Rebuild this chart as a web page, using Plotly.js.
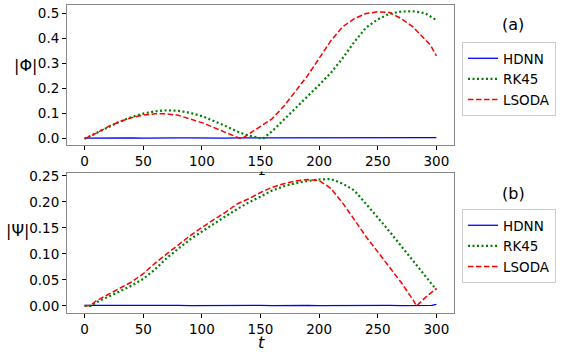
<!DOCTYPE html>
<html>
<head>
    <title>Phi / Psi comparison</title>
    <script src="https://cdn.plot.ly/plotly-3.0.1.min.js"></script>
    <style>
        body { margin: 0; background-color: white; }
        #chart { width: 564px; height: 354px; }
    </style>
</head>
<body>
    <div id="chart"></div>
    <script>
        // panel (a): |Phi|
        const tHdnnA = [0, 10, 20, 30, 40, 50, 60, 70, 80, 90, 100, 110, 120, 130, 140, 150, 160, 170, 180, 190, 200, 210, 220, 230, 240, 250, 260, 270, 280, 290, 300];
        const phiHdnn = [0.002, 0.003, 0.002, 0.003, 0.003, 0.002, 0.003, 0.002, 0.003, 0.003, 0.002, 0.003, 0.002, 0.003, 0.003, 0.002, 0.003, 0.002, 0.003, 0.003, 0.002, 0.003, 0.002, 0.003, 0.003, 0.002, 0.003, 0.002, 0.003, 0.003, 0.004];

        const tRk45A = [0, 10, 20, 30, 40, 50, 60, 70, 80, 90, 100, 110, 120, 130, 140, 150, 152, 160, 170, 180, 190, 200, 210, 220, 230, 240, 250, 260, 270, 280, 290, 300];
        const phiRk45 = [0, 0.022, 0.045, 0.068, 0.086, 0.1, 0.109, 0.113, 0.111, 0.103, 0.09, 0.072, 0.051, 0.029, 0.012, 0.002, 0, 0.03, 0.075, 0.12, 0.168, 0.214, 0.262, 0.32, 0.385, 0.442, 0.475, 0.497, 0.506, 0.507, 0.5, 0.472];

        const tLsodaA = [0, 10, 20, 30, 40, 50, 60, 70, 80, 90, 100, 110, 120, 130, 134, 140, 150, 160, 170, 180, 190, 200, 210, 220, 230, 240, 250, 260, 270, 280, 290, 295, 300];
        const phiLsoda = [0, 0.022, 0.048, 0.068, 0.084, 0.094, 0.099, 0.099, 0.093, 0.08, 0.064, 0.045, 0.024, 0.006, 0, 0.018, 0.047, 0.08, 0.13, 0.19, 0.25, 0.32, 0.39, 0.445, 0.478, 0.498, 0.505, 0.502, 0.478, 0.445, 0.395, 0.372, 0.33];

        // panel (b): |Psi|
        const tHdnnB = [0, 10, 20, 30, 40, 50, 60, 70, 80, 90, 100, 110, 120, 130, 140, 150, 160, 170, 180, 190, 200, 210, 220, 230, 240, 250, 260, 270, 280, 290, 296, 300];
        const psiHdnn = [0.001, 0.0012, 0.0008, 0.0012, 0.001, 0.0008, 0.0012, 0.001, 0.0012, 0.0008, 0.001, 0.0012, 0.0008, 0.001, 0.0012, 0.001, 0.0008, 0.0012, 0.001, 0.0012, 0.0008, 0.001, 0.0012, 0.0008, 0.001, 0.0012, 0.001, 0.0008, 0.0012, 0.001, 0.0012, 0.003];

        const tRk45B = [0, 5, 10, 20, 30, 40, 50, 60, 70, 80, 90, 100, 110, 120, 130, 140, 150, 160, 170, 180, 190, 200, 210, 220, 230, 240, 250, 260, 270, 280, 290, 300];
        const psiRk45 = [0, 0, 0.007, 0.017, 0.028, 0.039, 0.052, 0.07, 0.092, 0.11, 0.128, 0.143, 0.158, 0.172, 0.186, 0.199, 0.21, 0.222, 0.23, 0.236, 0.24, 0.243, 0.244, 0.235, 0.222, 0.197, 0.17, 0.143, 0.115, 0.088, 0.06, 0.031];

        const tLsodaB = [0, 5, 10, 20, 30, 40, 50, 60, 70, 80, 90, 100, 110, 120, 130, 140, 150, 160, 170, 180, 190, 200, 210, 220, 230, 240, 250, 260, 270, 280, 283, 290, 300];
        const psiLsoda = [0, 0.001, 0.01, 0.022, 0.033, 0.046, 0.062, 0.082, 0.1, 0.118, 0.135, 0.151, 0.165, 0.18, 0.196, 0.206, 0.218, 0.228, 0.235, 0.24, 0.243, 0.241, 0.226, 0.198, 0.166, 0.133, 0.104, 0.074, 0.045, 0.012, 0, 0.015, 0.034];

        const names = ['HDNN', 'RK45', 'LSODA'];
        const colors = ['#0000ff', '#008000', '#ff0000'];
        const dashes = ['solid', '2px,2.5px', '5.5px,2.5px'];
        const widths = [1.3, 2.2, 1.5];

        function mk(i, x, y, xa, ya, leg) {
            return {
                x: x, y: y, name: names[i], type: 'scatter', mode: 'lines',
                xaxis: xa, yaxis: ya, legend: leg,
                line: {color: colors[i], dash: dashes[i], width: widths[i]}
            };
        }

        const traces = [
            mk(0, tHdnnA, phiHdnn, 'x', 'y', 'legend'),
            mk(1, tRk45A, phiRk45, 'x', 'y', 'legend'),
            mk(2, tLsodaA, phiLsoda, 'x', 'y', 'legend'),
            mk(0, tHdnnB, psiHdnn, 'x2', 'y2', 'legend2'),
            mk(1, tRk45B, psiRk45, 'x2', 'y2', 'legend2'),
            mk(2, tLsodaB, psiLsoda, 'x2', 'y2', 'legend2')
        ];

        const W = 564, H = 354;
        const xDom = [67 / W, 454 / W];
        const axisFont = {family: 'DejaVu Sans', size: 13.5, color: '#000'};

        function xAxis(anchor) {
            return {
                domain: xDom, anchor: anchor, range: [-15, 315],
                tickvals: [0, 50, 100, 150, 200, 250, 300],
                ticks: 'outside', ticklen: 4, tickcolor: '#000',
                showgrid: false, zeroline: false,
                showline: true, mirror: true, linecolor: '#888', linewidth: 1,
                tickfont: axisFont
            };
        }
        function yAxis(anchor, dom, range, vals, fmt) {
            return {
                domain: dom, anchor: anchor, range: range,
                tickvals: vals, tickformat: fmt,
                ticks: 'outside', ticklen: 4, tickcolor: '#000',
                showgrid: false, zeroline: false,
                showline: true, mirror: true, linecolor: '#888', linewidth: 1,
                tickfont: axisFont
            };
        }

        const legendBase = {
            xanchor: 'left', yanchor: 'top', x: 462 / W,
            bgcolor: 'white', bordercolor: '#ccc', borderwidth: 1,
            font: {family: 'DejaVu Sans', size: 13.5, color: '#000'},
            tracegroupgap: 0
        };

        function note(text, x, y, size, extra) {
            return Object.assign({
                text: text, x: x / W, y: 1 - y / H, xref: 'paper', yref: 'paper',
                xanchor: 'center', yanchor: 'middle', showarrow: false,
                font: {family: 'DejaVu Sans', size: size, color: '#000'}
            }, extra || {});
        }

        const layout = {
            width: W, height: H,
            margin: {l: 0, r: 0, t: 0, b: 0},
            paper_bgcolor: 'white', plot_bgcolor: 'white',
            xaxis: xAxis('y'),
            yaxis: yAxis('x', [1 - 145 / H, 1 - 5 / H], [-0.025, 0.532], [0, 0.1, 0.2, 0.3, 0.4, 0.5], '.1f'),
            xaxis2: xAxis('y2'),
            yaxis2: yAxis('x2', [1 - 313 / H, 1 - 173 / H], [-0.0135, 0.2555], [0, 0.05, 0.1, 0.15, 0.2, 0.25], '.2f'),
            showlegend: true,
            legend: Object.assign({}, legendBase, {y: 1 - 42 / H}),
            legend2: Object.assign({}, legendBase, {y: 1 - 209 / H}),
            annotations: [
                note('(a)', 513, 25, 16),
                note('(b)', 513, 193, 16),
                note('|Φ|', 25, 65, 16),
                note('|Ψ|', 17, 230, 16),
                note('<i>t</i>', 261, 342, 16),
                // top panel's t is hidden behind the lower axes, only its top shows
                note('<i>t</i>', 261, 166, 16, {yanchor: 'top', valign: 'top', height: 7})
            ]
        };

        Plotly.newPlot('chart', traces, layout, {displayModeBar: false, staticPlot: true});
    </script>
</body>
</html>
